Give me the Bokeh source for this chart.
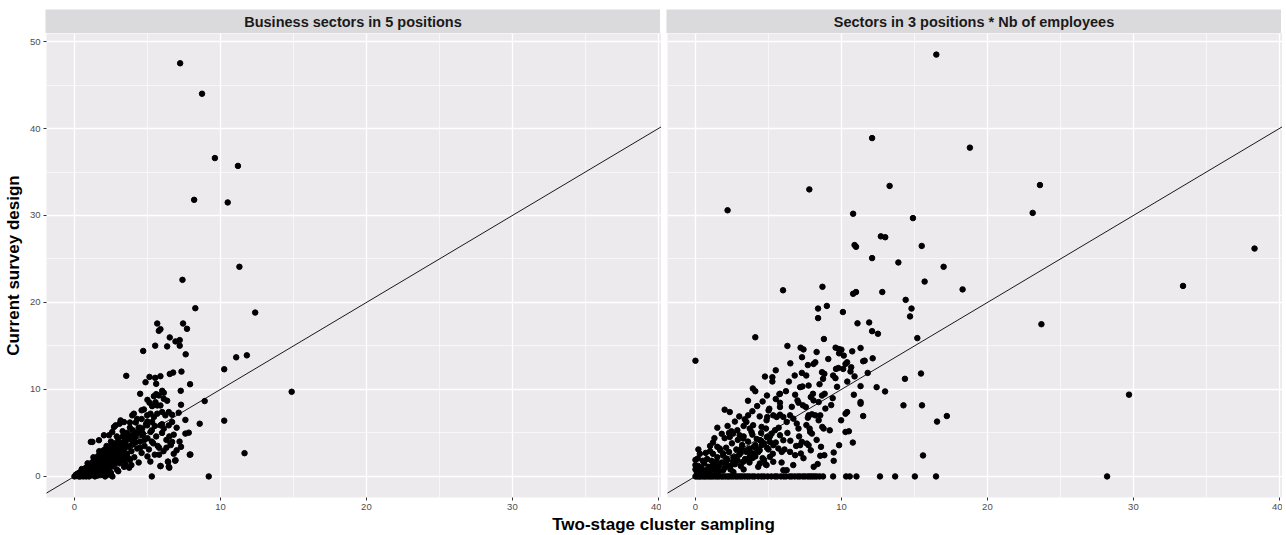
from bokeh.plotting import figure
from bokeh.models import Range1d, FixedTicker, Slope, Label
from bokeh.layouts import column, row
from bokeh.embed import file_html
from bokeh.resources import INLINE

FONT = "Liberation Sans"
PANEL_BG = "#EDEAEE"
STRIP_BG = "#DAD9DC"

left_title = "Business sectors in 5 positions"
right_title = "Sectors in 3 positions * Nb of employees"
x_title = "Two-stage cluster sampling"
y_title = "Current survey design"
x_ticks = [0, 10, 20, 30, 40]
x_minor = [5, 15, 25, 35]
y_ticks = [0, 10, 20, 30, 40, 50]
y_minor = [5, 15, 25, 35, 45]

# ---------------- left panel data (x = two-stage, y = current) -------------
left_upper = [(7.24, 47.5), (8.74, 44.0), (9.62, 36.6), (11.2, 35.7), (8.2, 31.8),
              (10.5, 31.5), (7.4, 22.6), (11.3, 24.1), (12.38, 18.84), (8.28, 19.34),
              (14.88, 9.73), (10.26, 12.32), (11.08, 13.69), (11.81, 13.92),
              (10.26, 6.41), (11.65, 2.67), (8.92, 8.66), (8.58, 6.06), (9.2, 0.0)]

left_mid = [(7.44, 17.58), (5.67, 17.58), (5.78, 16.74), (5.89, 16.93), (7.71, 16.97),
            (4.71, 14.42), (5.53, 15.03), (6.53, 15.98), (6.35, 14.95), (6.92, 15.52),
            (7.21, 15.67), (7.21, 15.03), (7.62, 14.04), (3.55, 11.56), (4.87, 10.83),
            (5.14, 11.44), (5.60, 10.64), (5.53, 11.33), (5.89, 11.52), (6.53, 11.78),
            (6.76, 11.94), (7.33, 12.05), (7.92, 10.60), (6.01, 9.84), (6.12, 9.61),
            (7.28, 9.84), (7.30, 8.24), (5.44, 9.23), (5.60, 9.46), (5.78, 9.31),
            (6.12, 8.92), (6.35, 8.70), (5.55, 8.54), (5.67, 8.16), (5.89, 8.16),
            (5.14, 8.47), (5.32, 8.08), (4.76, 7.70), (4.98, 7.02), (5.21, 7.21),
            (5.44, 6.83), (5.67, 7.21), (6.01, 7.40), (6.23, 7.02), (6.46, 7.40),
            (6.69, 7.09), (7.14, 7.32), (6.69, 6.25), (6.46, 5.87), (5.89, 5.87),
            (6.12, 5.49), (5.32, 6.25), (4.98, 5.87), (4.64, 5.49), (5.21, 5.11),
            (4.64, 4.73), (4.41, 5.11), (3.96, 7.02), (4.07, 7.21), (3.39, 6.25),
            (3.16, 6.44), (2.71, 5.68), (2.82, 5.87), (3.09, 6.06), (2.59, 5.11),
            (2.37, 4.73), (2.02, 4.73), (1.68, 4.16), (1.23, 3.97), (1.12, 3.97),
            (7.60, 4.92), (7.83, 5.03), (6.69, 3.97), (6.58, 3.78), (7.94, 2.52),
            (6.92, 1.87), (6.42, 1.68), (5.89, 1.18), (6.46, 1.11), (5.3, 0.0),
            (7.9, 2.5), (6.9, 1.8), (6.5, 1.0), (5.9, 1.2), (6.4, 1.7), (3.75, 1.0),
            (2.6, 0.0), (5.2, 1.7), (5.8, 2.5), (3.3, 3.8), (3.6, 4.5), (4.0, 4.7),
            (4.2, 3.9), (4.5, 5.6), (4.8, 4.2), (5.0, 6.3), (5.3, 4.0), (5.5, 5.8),
            (5.7, 3.5), (6.0, 6.0), (6.3, 3.3), (6.5, 4.6), (6.8, 2.6), (7.0, 5.6),
            (7.3, 3.4), (7.6, 6.5), (4.3, 6.6), (3.8, 6.2), (4.6, 7.6), (5.0, 8.8),
            (4.5, 9.5)]

left_core = [(0.0, 0.0), (0.1, 0.2), (0.2, 0.1), (0.3, 0.4), (0.3, 0.0), (0.4, 0.3),
             (0.5, 0.6), (0.5, 0.1), (0.6, 0.4), (0.7, 0.9), (0.7, 0.2), (0.8, 0.6),
             (0.9, 1.1), (0.9, 0.3), (1.0, 0.8), (1.0, 0.0), (1.1, 1.4), (1.1, 0.5),
             (1.2, 1.0), (1.2, 0.2), (1.3, 1.7), (1.3, 0.7), (1.4, 1.2), (1.4, 0.4),
             (1.5, 2.1), (1.5, 0.9), (1.5, 1.5), (1.6, 0.1), (1.6, 1.8), (1.7, 1.1),
             (1.7, 2.5), (1.7, 0.6), (1.8, 1.4), (1.8, 2.0), (1.9, 0.9), (1.9, 2.8),
             (2.0, 1.7), (2.0, 0.3), (2.0, 2.3), (2.1, 1.2), (2.1, 3.1), (2.2, 2.0),
             (2.2, 0.7), (2.3, 2.6), (2.3, 1.5), (2.4, 3.4), (2.4, 1.0), (2.5, 2.2),
             (2.5, 0.4), (2.6, 2.9), (2.6, 1.8), (2.7, 3.8), (2.7, 1.3), (2.8, 2.5),
             (2.9, 3.3), (2.9, 0.8), (3.0, 2.0), (3.0, 4.2), (3.1, 2.8), (3.1, 1.5),
             (3.2, 3.6), (3.3, 2.3), (3.3, 4.6), (3.4, 3.0), (3.4, 1.1), (3.5, 3.9),
             (3.6, 2.6), (3.6, 5.0), (3.7, 3.4), (3.8, 1.9), (3.8, 4.3), (3.9, 2.9),
             (4.0, 5.3), (4.0, 3.7), (4.1, 2.2), (4.2, 4.6), (4.3, 3.2), (4.4, 5.6),
             (4.4, 1.6), (4.5, 4.0), (4.6, 2.7), (4.7, 4.9), (4.8, 3.5), (4.9, 6.0),
             (5.0, 2.3), (5.0, 4.4), (5.1, 3.1), (5.3, 5.3), (5.4, 3.8), (5.5, 2.5),
             (5.6, 4.6), (5.8, 3.3), (6.0, 5.0), (6.1, 2.9), (6.3, 4.2), (6.6, 3.6),
             (6.8, 4.8), (7.0, 3.0), (7.2, 4.0), (0.2, 0.3), (0.4, 0.5), (0.6, 0.7),
             (0.6, 0.0), (0.8, 1.0), (0.8, 0.1), (0.9, 0.6), (1.0, 1.3), (1.1, 0.9),
             (1.2, 1.6), (1.3, 1.2), (1.4, 2.0), (1.4, 0.9), (1.6, 1.3), (1.6, 2.3),
             (1.8, 1.0), (1.8, 2.7), (1.9, 1.8), (2.0, 3.0), (2.1, 2.4), (2.2, 1.4),
             (2.3, 3.3), (2.4, 2.1), (2.5, 3.0), (2.6, 2.4), (2.8, 3.6), (2.8, 1.9),
             (3.0, 3.4), (3.2, 2.6), (3.4, 4.0), (3.5, 2.0), (3.7, 4.8), (3.9, 3.6),
             (4.1, 4.1), (4.3, 5.0), (4.5, 3.3)]

left_dense = [(0.15, 0.05), (0.25, 0.2), (0.35, 0.15), (0.45, 0.45), (0.55, 0.2),
              (0.65, 0.5), (0.75, 0.35), (0.85, 0.8), (0.95, 0.55), (1.05, 1.0),
              (1.15, 0.7), (1.25, 1.3), (1.35, 0.95), (1.45, 1.6), (1.55, 1.2),
              (1.65, 1.9), (1.75, 1.35), (1.85, 2.2), (1.95, 1.5), (2.05, 2.6),
              (2.15, 1.8), (2.25, 2.9), (2.35, 2.2), (2.45, 2.6), (2.55, 1.4),
              (2.65, 3.3), (2.75, 2.0), (2.85, 2.9), (2.95, 2.4), (3.05, 3.7),
              (3.15, 3.1), (3.25, 1.9), (3.35, 3.5), (3.45, 2.6), (3.55, 4.3),
              (0.3, 0.25), (0.7, 0.55), (1.0, 0.35), (1.2, 0.85), (1.45, 0.65),
              (1.6, 1.05), (1.8, 0.55), (1.9, 1.25), (2.1, 0.95), (2.3, 0.45),
              (2.4, 1.7), (2.6, 1.15), (2.7, 2.3), (2.9, 1.6), (3.0, 0.6), (3.2, 2.2),
              (3.5, 1.4), (3.7, 2.1), (3.9, 1.3), (0.5, 0.85), (0.9, 1.5), (1.3, 2.2),
              (1.7, 2.9), (2.2, 3.5), (2.5, 4.0), (2.9, 4.6), (3.3, 5.2), (3.8, 5.6),
              (4.2, 6.2), (4.6, 6.6), (1.1, 0.1), (1.4, 0.0), (1.8, 0.15), (2.1, 0.0),
              (2.4, 0.2), (0.8, 0.0), (0.4, 0.0)]

# ---------------- right panel data ----------------------------------------
right_upper = [(16.5, 48.5), (12.1, 38.9), (18.8, 37.8), (7.8, 33.0), (13.3, 33.4),
               (23.6, 33.5), (2.2, 30.6), (10.8, 30.2), (14.9, 29.7), (23.1, 30.3),
               (10.9, 26.6), (11.0, 26.4), (12.7, 27.6), (13.0, 27.5), (15.5, 26.5),
               (38.3, 26.2), (33.4, 21.9), (23.7, 17.5), (29.7, 9.4)]

right_mid = [(12.1, 25.1), (13.9, 24.6), (17.0, 24.1), (15.7, 22.4), (18.3, 21.5),
             (6.0, 21.4), (8.7, 21.8), (10.8, 21.0), (11.0, 21.2), (12.8, 21.2),
             (14.4, 20.3), (14.8, 19.3), (14.7, 18.4), (8.4, 19.3), (9.0, 19.6),
             (8.4, 18.2), (10.1, 18.9), (11.1, 17.6), (11.9, 17.7), (12.1, 16.7),
             (12.5, 16.4), (4.1, 16.0), (8.8, 15.8), (15.2, 15.9), (0.0, 13.3),
             (6.3, 15.0), (7.2, 14.8), (7.4, 14.6), (8.3, 14.3), (9.6, 14.8),
             (9.9, 14.5), (7.3, 13.7), (6.5, 13.0), (4.76, 11.48), (5.27, 11.41),
             (5.27, 10.91), (3.93, 10.11), (5.75, 9.46), (6.83, 9.39), (6.99, 8.74),
             (7.06, 8.47), (7.33, 10.34), (7.17, 10.26), (7.75, 10.45), (7.59, 11.6),
             (7.29, 11.9), (8.09, 12.93), (8.21, 13.12), (8.67, 11.98), (8.83, 11.79),
             (8.74, 11.22), (9.43, 11.6), (9.59, 11.3), (9.63, 12.36), (9.79, 12.47),
             (10.12, 12.36), (10.28, 12.93), (10.39, 13.12), (10.67, 12.55),
             (10.62, 12.06), (9.82, 14.65), (10.0, 14.57), (10.16, 13.89),
             (9.84, 14.15), (10.74, 14.38), (11.31, 14.76), (11.59, 13.31),
             (11.49, 13.24), (12.14, 13.58), (11.31, 10.38), (10.85, 9.39),
             (11.31, 8.55), (11.31, 8.36), (11.49, 6.94), (12.41, 10.26), (12.99, 9.77),
             (14.35, 11.22), (15.45, 11.83), (14.25, 8.17), (15.52, 8.17), (16.55, 6.3),
             (17.22, 6.94), (15.59, 2.41), (10.28, 7.21), (10.39, 7.4), (9.98, 6.45),
             (10.28, 5.11), (10.51, 5.19), (10.78, 3.89), (9.84, 3.59), (9.47, 2.75),
             (9.47, 1.79), (8.83, 2.44), (8.55, 2.37), (8.37, 1.42), (8.85, 9.5),
             (8.67, 9.3), (8.05, 9.5), (7.9, 9.12), (8.44, 8.55), (8.09, 8.74),
             (7.56, 7.98), (7.36, 8.17), (7.75, 7.02), (7.98, 7.14), (8.21, 7.02),
             (8.55, 7.02), (8.44, 6.45), (7.7, 6.75), (8.78, 5.5), (8.69, 5.69),
             (7.82, 5.5), (7.86, 5.11), (7.98, 4.92), (7.29, 3.97), (7.17, 3.59),
             (7.22, 2.63), (7.63, 3.78), (7.75, 3.59), (6.83, 2.44), (6.48, 2.82),
             (5.79, 9.5), (5.79, 8.47), (5.79, 7.98), (5.06, 7.78), (5.01, 7.59),
             (4.6, 8.62), (4.23, 8.09), (3.61, 7.02), (3.38, 6.56), (3.49, 6.26),
             (2.0, 7.67), (2.35, 7.4), (2.46, 5.19), (2.58, 4.92), (2.35, 4.54),
             (2.87, 5.31), (3.03, 4.73), (3.27, 4.35), (3.72, 5.5), (3.84, 5.11),
             (3.95, 5.88), (4.53, 5.69), (4.83, 5.5), (4.87, 6.45), (4.92, 6.83),
             (5.33, 7.02), (5.56, 6.83), (5.79, 7.1), (6.02, 6.83), (6.25, 6.26),
             (6.48, 7.02), (6.71, 6.64), (6.94, 6.07), (7.06, 5.5), (5.22, 4.92),
             (5.45, 5.31), (5.79, 4.73), (6.02, 4.16), (5.1, 3.97), (5.33, 3.59),
             (5.68, 3.21), (5.91, 2.82), (4.41, 4.16), (4.53, 3.59), (4.18, 3.21),
             (3.95, 2.63), (3.15, 3.21), (3.49, 2.82), (3.72, 2.25), (3.27, 1.68),
             (1.66, 3.21), (1.89, 2.63), (2.11, 2.06), (1.43, 1.68), (1.2, 1.3),
             (0.16, 2.06), (0.0, 1.3), (2.8, 2.25), (2.58, 1.68), (2.35, 1.11),
             (5.1, 2.25), (5.33, 1.68), (4.87, 1.3), (4.41, 1.49), (6.02, 0.72),
             (6.25, 0.72)]

right_low = [(0.0, 0.8), (0.0, 1.9), (0.1, 0.4), (0.2, 1.2), (0.3, 0.6), (0.4, 1.0),
             (0.5, 0.3), (0.6, 1.5), (0.7, 0.7), (0.8, 2.0), (0.9, 1.1), (1.0, 0.5),
             (1.1, 1.8), (1.2, 2.6), (1.3, 0.9), (1.4, 1.4), (1.5, 2.2), (1.6, 0.6),
             (1.7, 3.0), (1.8, 1.6), (1.9, 2.4), (2.0, 1.0), (2.1, 3.3), (2.2, 1.9),
             (2.3, 2.8), (2.4, 0.8), (2.5, 3.8), (2.6, 2.2), (2.7, 1.4), (2.8, 3.1),
             (2.9, 4.2), (3.0, 2.5), (3.1, 1.2), (3.2, 3.6), (3.3, 4.6), (3.4, 2.0),
             (3.5, 3.0), (3.6, 4.0), (3.7, 1.6), (3.8, 2.7), (3.9, 4.8), (4.0, 3.4),
             (4.1, 2.3), (4.2, 4.3), (4.3, 1.1), (4.4, 3.0), (4.5, 5.0), (4.6, 2.1),
             (4.7, 3.8), (4.8, 1.4), (4.9, 4.5), (5.0, 3.1), (0.5, 1.8), (1.0, 2.9),
             (1.5, 3.4), (2.0, 4.4), (2.3, 5.0), (1.2, 3.9), (0.3, 2.6)]

right_extra = [(0.3, 0.2), (0.6, 0.4), (0.9, 0.2), (1.1, 0.9), (1.4, 0.5), (1.6, 1.2),
               (1.9, 0.7), (2.1, 1.5), (2.4, 1.2), (2.6, 0.5), (2.9, 1.8), (3.1, 2.7),
               (3.3, 0.8), (3.5, 1.9), (3.7, 3.2), (3.9, 2.1), (4.1, 3.6), (4.3, 2.8),
               (4.5, 4.1), (4.7, 1.9), (4.9, 3.3), (5.1, 4.6), (5.3, 2.6), (5.5, 3.9),
               (5.7, 5.6), (5.9, 1.6), (6.1, 3.1), (6.3, 5.0), (6.5, 4.1), (6.7, 1.3),
               (6.9, 3.5), (7.1, 4.6), (7.4, 2.1), (7.6, 5.9), (7.9, 3.0), (8.1, 1.1),
               (8.3, 4.2), (8.6, 3.4), (8.9, 7.8), (9.2, 5.3), (9.4, 9.0), (9.7, 10.3),
               (6.6, 8.0), (6.2, 9.8), (5.5, 8.9), (4.9, 9.3), (4.4, 6.9), (3.9, 7.5),
               (3.3, 5.8), (2.7, 6.3), (1.8, 4.9), (1.5, 5.6), (1.0, 3.5), (0.7, 2.7),
               (0.2, 3.1), (1.3, 4.4), (2.2, 5.8), (3.0, 6.9), (3.6, 8.7), (4.1, 9.8),
               (6.8, 11.6), (7.7, 12.8), (8.5, 10.6), (9.1, 13.5), (10.4, 10.9),
               (11.8, 11.9), (9.3, 8.2), (10.9, 11.5), (6.4, 10.9), (5.5, 12.2)]

right_zero_x = [0.0, 0.12, 0.25, 0.33, 0.47, 0.6, 0.71, 0.85, 0.98, 1.1, 1.22, 1.37,
                1.5, 1.62, 1.78, 1.9, 2.05, 2.2, 2.31, 2.46, 2.6, 2.77, 2.9, 3.06, 3.2,
                3.38, 3.55, 3.7, 3.9, 4.05, 4.3, 4.52, 4.7, 4.95, 5.2, 5.45, 5.6, 5.85,
                6.05, 6.2, 6.45, 6.6, 6.8, 7.0, 7.15, 7.35, 7.5, 7.7, 7.85, 8.0, 8.15,
                8.3, 8.5, 8.74, 9.43, 10.32, 10.57, 11.03, 12.64, 13.68, 15.03, 16.48,
                28.2]

left_pts = left_upper + left_mid + left_core + left_dense
right_pts = right_upper + right_mid + right_low + right_extra + [(v, 0.0) for v in right_zero_x]
left_x = [p[0] for p in left_pts]
left_y = [p[1] for p in left_pts]
right_x = [p[0] for p in right_pts]
right_y = [p[1] for p in right_pts]

# ggplot-like shared limits with 5% expansion
all_x = left_x + right_x
all_y = left_y + right_y
dx = (max(all_x) - min(all_x)) * 0.05
dy = (max(all_y) - min(all_y)) * 0.05
XR = (min(all_x) - dx, max(all_x) + dx)
YR = (min(all_y) - dy, max(all_y) + dy)

FRAME_H = 464
LEFT_W = 615
RIGHT_W = 615
LEFT_BORDER = 45
GAP = 6
TOP = 9


def panel(xs, ys, fw, border_left, with_y):
    p = figure(frame_width=fw, frame_height=FRAME_H,
               x_range=Range1d(*XR), y_range=Range1d(*YR),
               output_backend="svg", toolbar_location=None,
               y_axis_location="left" if with_y else None,
               min_border_left=border_left, min_border_right=0,
               min_border_top=0, min_border_bottom=16)
    p.background_fill_color = PANEL_BG
    p.border_fill_color = "white"
    p.outline_line_color = None
    p.xaxis.ticker = FixedTicker(ticks=x_ticks, minor_ticks=x_minor)
    for g in p.xgrid:
        g.ticker = p.xaxis[0].ticker
    p.xgrid.grid_line_color = "white"
    p.xgrid.grid_line_width = 1.3
    p.xgrid.minor_grid_line_color = "white"
    p.xgrid.minor_grid_line_width = 0.6
    p.ygrid.grid_line_color = "white"
    p.ygrid.grid_line_width = 1.3
    p.ygrid.minor_grid_line_color = "white"
    p.ygrid.minor_grid_line_width = 0.6
    axes = list(p.xaxis) + (list(p.yaxis) if with_y else [])
    for ax in axes:
        ax.axis_line_color = None
        ax.major_tick_line_color = "#333333"
        ax.major_tick_in = 0
        ax.major_tick_out = 3
        ax.minor_tick_line_color = None
        ax.major_label_text_font = FONT
        ax.major_label_text_font_size = "9.5px"
        ax.major_label_text_color = "#4d4d4d"
        ax.major_label_standoff = 2
    if with_y:
        p.yaxis.ticker = FixedTicker(ticks=y_ticks, minor_ticks=y_minor)
        for g in p.ygrid:
            g.ticker = p.yaxis[0].ticker
        p.yaxis.axis_label = y_title
        p.yaxis.axis_label_text_font = FONT
        p.yaxis.axis_label_text_font_size = "17px"
        p.yaxis.axis_label_text_font_style = "bold"
        p.yaxis.axis_label_text_color = "black"
        p.yaxis.axis_label_standoff = 4
    else:
        for g in p.ygrid:
            g.ticker = FixedTicker(ticks=y_ticks, minor_ticks=y_minor)
    p.add_layout(Slope(gradient=1, y_intercept=0, line_color="black", line_width=0.9))
    p.scatter(xs, ys, size=5.5, color="black")
    return p


def strip(title, fw, border_left):
    s = figure(frame_width=fw, frame_height=24, x_range=Range1d(0, 1), y_range=Range1d(0, 1),
               output_backend="svg", toolbar_location=None,
               x_axis_type=None, y_axis_type=None,
               min_border_left=border_left, min_border_right=0,
               min_border_top=TOP, min_border_bottom=0)
    s.grid.visible = False
    s.background_fill_color = STRIP_BG
    s.border_fill_color = "white"
    s.outline_line_color = None
    s.add_layout(Label(x=0.5, y=0.5, text=title, text_align="center",
                       text_baseline="middle", text_font=FONT,
                       text_font_size="14.5px", text_font_style="bold",
                       text_color="#1a1a1a"))
    return s


p_left = panel(left_x, left_y, LEFT_W, LEFT_BORDER, True)
p_right = panel(right_x, right_y, RIGHT_W, GAP, False)
s_left = strip(left_title, LEFT_W, LEFT_BORDER)
s_right = strip(right_title, RIGHT_W, GAP)

total_w = LEFT_BORDER + LEFT_W + GAP + RIGHT_W
xt = figure(width=total_w, height=21, x_range=Range1d(0, 1), y_range=Range1d(0, 1),
            output_backend="svg", toolbar_location=None,
            x_axis_type=None, y_axis_type=None,
            min_border_left=0, min_border_right=0, min_border_top=0, min_border_bottom=0)
xt.grid.visible = False
xt.outline_line_color = None
xt.background_fill_color = "white"
xt.border_fill_color = "white"
xt.add_layout(Label(x=(LEFT_BORDER + (LEFT_W + GAP + RIGHT_W) / 2) / total_w, y=0.5,
                    text=x_title, text_align="center", text_baseline="middle",
                    text_font=FONT, text_font_size="17px", text_font_style="bold",
                    text_color="black"))

layout = column(row(s_left, s_right), row(p_left, p_right), xt, spacing=0)

open("out.html", "w").write(file_html(layout, INLINE))
